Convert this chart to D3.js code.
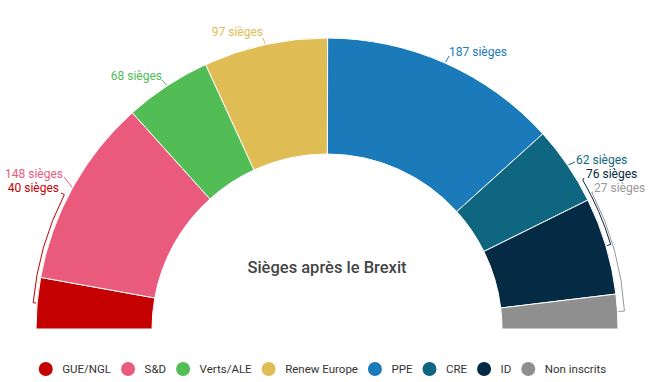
<!DOCTYPE html>
<html lang="fr">
<head>
    <meta charset="UTF-8">
    <title>Sièges après le Brexit</title>
    <style>
        body {
            margin: 0;
            background: #ffffff;
            font-family: Roboto, "Noto Sans", Arial, sans-serif;
        }
        svg text { font-family: Roboto, "Noto Sans", Arial, sans-serif; }
    </style>
</head>
<body>
    <div id="chart"></div>

    <script src="https://d3js.org/d3.v7.min.js"></script>
    <script>
        // Données : groupes politiques et sièges
        const groups = ['GUE/NGL', 'S&D', 'Verts/ALE', 'Renew Europe', 'PPE', 'CRE', 'ID', 'Non inscrits'];
        const seats = [40, 148, 68, 97, 187, 62, 76, 27];
        const colors = ['#c50000', '#ea5a7d', '#52bd55', '#dfbd54', '#1b7bba', '#0f6680', '#042a44', '#8f8f8f'];
        const labelColors = ['#c50000', '#ea5a7d', '#52bd55', '#dfbd54', '#1b7bba', '#0f6680', '#042a44', '#999999'];
        const title = 'Sièges après le Brexit';

        const width = 654, height = 382;
        const cx = 327, cy = 329;
        const outerR = 291, innerR = 175;

        // placement des étiquettes (position du texte, début du trait, accolade éventuelle)
        const labelLayout = [
            { x: 59, y: 188, anchor: 'end', lead: [61, 193], bracket: { r: 4, a: -62.9 } },
            { x: 63, y: 174, anchor: 'end', lead: [64, 177] },
            { x: 162, y: 75.5, anchor: 'end', lead: [162, 80] },
            { x: 263, y: 32, anchor: 'end', lead: [263, 38] },
            { x: 449, y: 52, anchor: 'start', lead: [449, 56] },
            { x: 576, y: 160, anchor: 'start', lead: [575, 162] },
            { x: 586, y: 174, anchor: 'start', lead: [584, 178], bracket: { r: 5, a: 59.8 } },
            { x: 594, y: 188, anchor: 'start', lead: [593, 192], bracket: { r: 7, a: 62.7 } }
        ];

        const svg = d3.select('#chart').append('svg')
            .attr('width', width)
            .attr('height', height);

        const pie = d3.pie().sort(null).value(d => d)
            .startAngle(-Math.PI / 2).endAngle(Math.PI / 2);
        const arcs = pie(seats);

        const arc = d3.arc().innerRadius(innerR).outerRadius(outerR);

        const g = svg.append('g').attr('transform', `translate(${cx},${cy})`);

        g.selectAll('path.slice')
            .data(arcs)
            .enter().append('path')
            .attr('class', 'slice')
            .attr('d', arc)
            .attr('fill', (d, i) => colors[i])
            .attr('stroke', '#ffffff')
            .attr('stroke-width', 1);

        // point sur un cercle (angle d3 : 0 = en haut, sens horaire)
        function pt(a, r) {
            return [r * Math.sin(a), -r * Math.cos(a)];
        }

        // traits de rappel
        arcs.forEach((d, i) => {
            const L = labelLayout[i];
            const mid = (d.startAngle + d.endAngle) / 2;
            const p = d3.path();
            p.moveTo(L.lead[0] - cx, L.lead[1] - cy);
            if (L.bracket) {
                const rb = outerR + L.bracket.r;
                const a0 = L.bracket.a * Math.PI / 180;
                const s = pt(a0, rb);
                p.lineTo(s[0], s[1]);
                p.arc(0, 0, rb, a0 - Math.PI / 2, mid - Math.PI / 2, mid < a0);
                const t = pt(mid, outerR + 1);
                p.lineTo(t[0], t[1]);
            } else {
                const t = pt(mid, outerR + 1);
                p.lineTo(t[0], t[1]);
            }
            g.append('path')
                .attr('d', p.toString())
                .attr('fill', 'none')
                .attr('stroke', labelColors[i])
                .attr('stroke-width', 1);
        });

        // étiquettes
        svg.selectAll('text.lbl')
            .data(arcs)
            .enter().append('text')
            .attr('class', 'lbl')
            .attr('x', (d, i) => labelLayout[i].x)
            .attr('y', (d, i) => labelLayout[i].y)
            .attr('dy', '0.35em')
            .attr('text-anchor', (d, i) => labelLayout[i].anchor)
            .attr('font-size', '12px')
            .attr('fill', (d, i) => labelColors[i])
            .text(d => `${d.data} sièges`);

        // titre au centre
        svg.append('text')
            .attr('x', cx)
            .attr('y', 273)
            .attr('text-anchor', 'middle')
            .attr('font-size', '16.5px')
            .attr('font-weight', 500)
            .attr('fill', '#444444')
            .text(title);

        // légende
        const legend = svg.append('g');
        let lx = 0;
        groups.forEach((name, i) => {
            const item = legend.append('g').attr('transform', `translate(${lx},0)`);
            item.append('circle')
                .attr('cx', 0)
                .attr('cy', 0)
                .attr('r', 7)
                .attr('fill', colors[i]);
            const t = item.append('text')
                .attr('x', 16.5)
                .attr('y', 0)
                .attr('dy', '0.35em')
                .attr('font-size', '11.5px')
                .attr('fill', '#333333')
                .text(name);
            lx += 16.5 + t.node().getComputedTextLength() + 17;
        });
        const legendW = lx - 17;
        legend.attr('transform', `translate(${326 - legendW / 2},369)`);
    </script>
</body>
</html>
